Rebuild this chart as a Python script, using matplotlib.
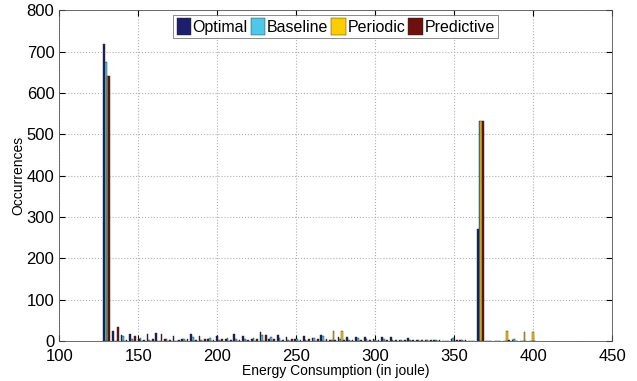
import numpy as np
import matplotlib.pyplot as plt

plt.rcParams['font.family'] = ['Liberation Sans', 'DejaVu Sans']

# histogram bins (centers, in joule)
bin_start = 130.0
bin_width = 5.5
series = ['Optimal', 'Baseline', 'Periodic', 'Predictive']
colors = ['#1c1f6b', '#4cc8e8', '#ffcc00', '#6e1010']

optimal = [718, 24, 14, 16, 5, 18, 20, 6, 13, 5,
           16, 13, 4, 13, 5, 17, 12, 5, 21, 4,
           14, 10, 6, 12, 8, 14, 3, 10, 9, 10,
           10, 4, 10, 10, 3, 8, 3, 3, 3, 0,
           4, 3, 0, 270, 0, 0, 0, 2, 0, 0]
baseline = [675, 0, 13, 4, 8, 3, 0, 4, 0, 4,
            10, 3, 8, 3, 8, 6, 4, 8, 14, 10,
            8, 3, 5, 3, 8, 12, 2, 5, 3, 8,
            6, 2, 5, 3, 3, 3, 3, 3, 2, 0,
            8, 3, 0, 532, 0, 0, 0, 5, 0, 0]
periodic = [640, 0, 0, 0, 0, 0, 0, 0, 0, 0,
            0, 0, 0, 0, 0, 0, 0, 0, 0, 0,
            0, 0, 0, 0, 0, 0, 24, 24, 0, 0,
            0, 0, 0, 0, 0, 0, 0, 0, 0, 0,
            0, 0, 0, 532, 0, 0, 24, 0, 22, 22]
predictive = [640, 35, 3, 12, 3, 4, 16, 3, 2, 5,
              3, 4, 3, 4, 3, 3, 3, 4, 14, 6,
              3, 4, 3, 4, 4, 4, 2, 3, 2, 2,
              3, 3, 2, 2, 2, 2, 2, 2, 2, 0,
              3, 2, 0, 532, 0, 0, 2, 0, 0, 0]

data = [optimal, baseline, periodic, predictive]
centers = bin_start + bin_width * np.arange(len(optimal))

fig = plt.figure(figsize=(6.37, 3.81), dpi=100)
ax = fig.add_axes([0.093, 0.105, 0.868, 0.868])

w = 1.1
for i, (vals, name, c) in enumerate(zip(data, series, colors)):
    ax.bar(centers + (i - 1.5) * w, vals, width=w, color=c,
           edgecolor='#222222', linewidth=0.3, label=name, zorder=3)

ax.set_xlim(100, 450)
ax.set_ylim(0, 800)
ax.set_xticks(np.arange(100, 451, 50))
ax.set_yticks(np.arange(0, 801, 100))
ax.tick_params(direction='in', labelsize=12, length=4, top=True, right=True)
ax.tick_params(axis='x', pad=6)
ax.grid(True, linestyle=':', color='#b0b0b0', linewidth=0.8, zorder=0)
ax.set_axisbelow(True)
for s in ax.spines.values():
    s.set_color('#555555')
    s.set_linewidth(0.6)

ax.set_xlabel('Energy Consumption (in joule)', fontsize=10, labelpad=0)
ax.set_ylabel('Occurrences', fontsize=10, labelpad=1)

leg = ax.legend(loc='upper center', ncol=4, fontsize=11.5, frameon=True,
                fancybox=False, edgecolor='#555555', borderpad=0.2,
                handlelength=0.9, handleheight=1.2, handletextpad=0.1,
                columnspacing=0.2, borderaxespad=0.3,
                bbox_to_anchor=(0.5, 1.0))
leg.get_frame().set_linewidth(0.6)

fig.savefig('out.png', dpi=100)
